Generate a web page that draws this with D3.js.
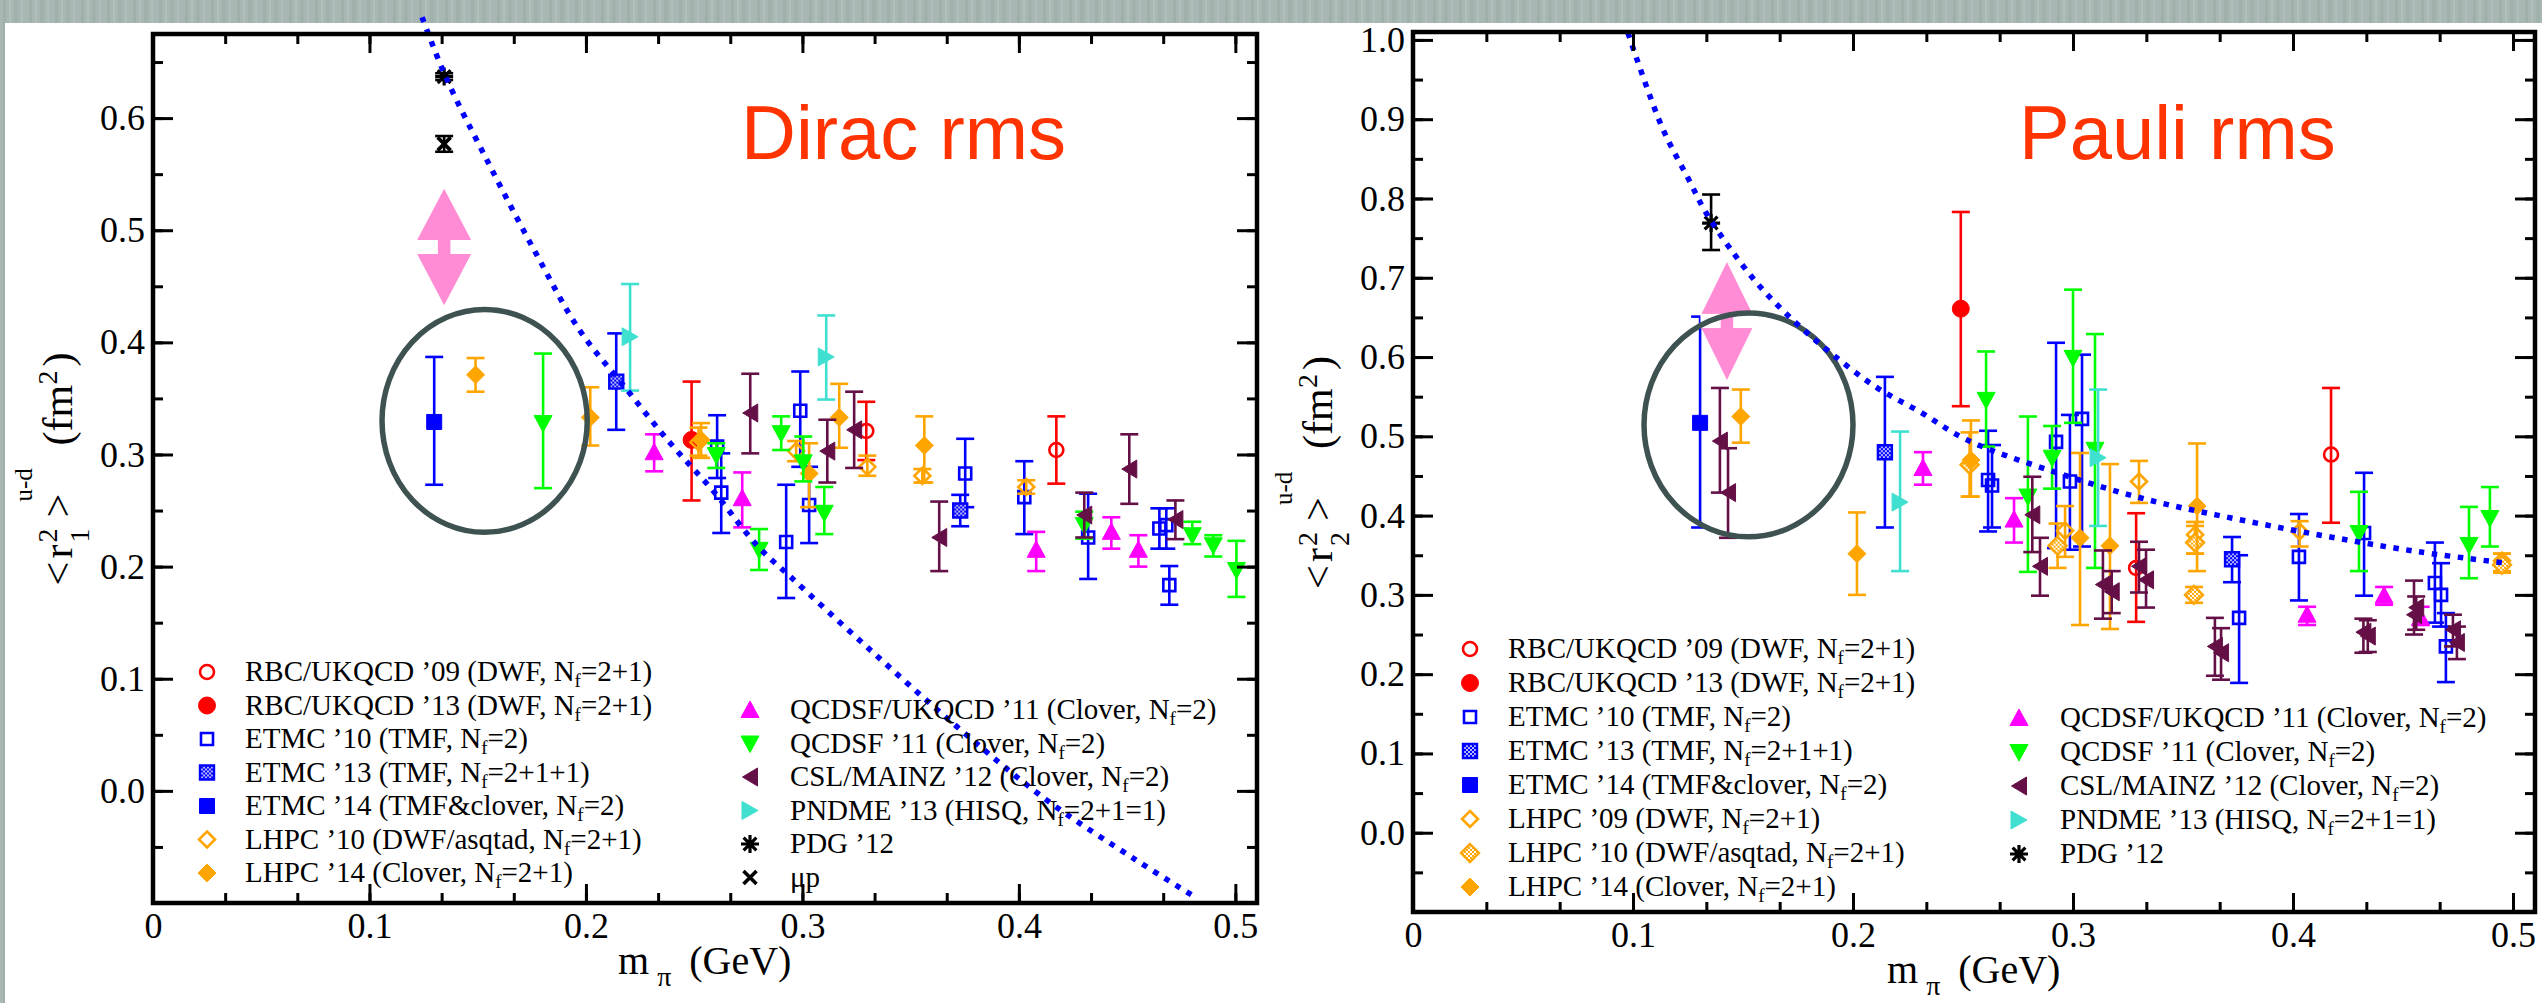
<!DOCTYPE html>
<html>
<head>
<meta charset="utf-8">
<script src="https://cdn.jsdelivr.net/npm/d3@7/dist/d3.min.js"></script>
<style>
  body { margin: 0; background: #fff; }
</style>
</head>
<body>
<div id="visualization"></div>
<script>
// ---- data: [m_pi, value, lower end of error bar, upper end] ----

// Dirac rms panel
const diracRBC09 = [[0.3295, 0.321, 0.295, 0.347], [0.4173, 0.304, 0.274, 0.334]];
const diracRBC13 = [[0.2488, 0.313, 0.259, 0.365]];
const diracETMC10 = [
  [0.2606, 0.307, 0.279, 0.335], [0.2625, 0.266, 0.230, 0.301], [0.2925, 0.222, 0.172, 0.273],
  [0.2990, 0.339, 0.289, 0.374], [0.3031, 0.255, 0.221, 0.289], [0.3752, 0.283, 0.253, 0.314],
  [0.4025, 0.262, 0.229, 0.294], [0.4320, 0.226, 0.189, 0.265], [0.4649, 0.234, 0.216, 0.252],
  [0.4681, 0.237, 0.216, 0.252], [0.4695, 0.1835, 0.166, 0.2005]
];
const diracETMC13 = [[0.2140, 0.365, 0.322, 0.408], [0.3729, 0.250, 0.236, 0.264]];
const diracETMC14 = [[0.1299, 0.329, 0.273, 0.387]];
const diracLHPC10 = [
  [0.2520, 0.311, 0.299, 0.324], [0.2971, 0.303, 0.294, 0.312], [0.3300, 0.289, 0.281, 0.299],
  [0.3554, 0.281, 0.275, 0.287], [0.4034, 0.271, 0.265, 0.277]
];
const diracLHPC14 = [
  [0.1490, 0.371, 0.356, 0.386], [0.2020, 0.333, 0.308, 0.360], [0.2532, 0.313, 0.297, 0.328],
  [0.3031, 0.283, 0.253, 0.310], [0.3170, 0.333, 0.306, 0.363], [0.3563, 0.308, 0.275, 0.334]
];
const diracQCDSFUK = [
  [0.2315, 0.302, 0.285, 0.318], [0.2722, 0.261, 0.235, 0.284], [0.4080, 0.215, 0.196, 0.231],
  [0.4427, 0.231, 0.216, 0.244], [0.4552, 0.215, 0.200, 0.228]
];
const diracQCDSF = [
  [0.1802, 0.328, 0.270, 0.390], [0.2602, 0.2995, 0.288, 0.310], [0.2800, 0.215, 0.197, 0.2335],
  [0.2902, 0.319, 0.304, 0.334], [0.3004, 0.293, 0.276, 0.316], [0.3101, 0.248, 0.229, 0.271],
  [0.4302, 0.237, 0.225, 0.249], [0.4801, 0.228, 0.220, 0.240], [0.4898, 0.219, 0.209, 0.228],
  [0.5005, 0.197, 0.173, 0.223]
];
const diracCSL = [
  [0.2759, 0.337, 0.301, 0.372], [0.3115, 0.303, 0.275, 0.331], [0.3239, 0.322, 0.288, 0.356],
  [0.3632, 0.226, 0.196, 0.258], [0.4302, 0.246, 0.226, 0.266], [0.4510, 0.287, 0.256, 0.318],
  [0.4723, 0.242, 0.2245, 0.259]
];
const diracPNDME = [[0.2204, 0.405, 0.357, 0.452], [0.3110, 0.387, 0.349, 0.424]];
const diracPDG = [[0.1345, 0.637, 0.634, 0.640]];
const diracMuP = [[0.1345, 0.577, 0.570, 0.584]];

// dotted chiral curve, arrow [m, top, bottom], circle [m, value, half width, half height]
const diracCurve = [
  [0.1243, 0.690], [0.1354, 0.636], [0.156, 0.556], [0.177, 0.479], [0.197, 0.411],
  [0.218, 0.360], [0.239, 0.310], [0.259, 0.267], [0.279, 0.219], [0.295, 0.190],
  [0.330, 0.128], [0.3715, 0.057], [0.4127, -0.008], [0.454, -0.0615], [0.480, -0.093]
];
const diracArrow = [0.1345, 0.537, 0.433];
const diracCircle = [0.1532, 0.330, 0.0474, 0.0994];

// Pauli rms panel
const pauliRBC09 = [[0.3287, 0.334, 0.266, 0.403], [0.4173, 0.477, 0.391, 0.561]];
const pauliRBC13 = [[0.2490, 0.661, 0.538, 0.783]];
const pauliETMC10 = [
  [0.2614, 0.445, 0.380, 0.507], [0.2632, 0.438, 0.385, 0.489], [0.2923, 0.493, 0.359, 0.618],
  [0.2986, 0.443, 0.357, 0.527], [0.3041, 0.522, 0.361, 0.603], [0.3755, 0.271, 0.189, 0.350],
  [0.4027, 0.348, 0.293, 0.402], [0.4323, 0.378, 0.299, 0.454], [0.4645, 0.315, 0.265, 0.366],
  [0.4673, 0.300, 0.260, 0.340], [0.4695, 0.235, 0.190, 0.277]
];
const pauliETMC13 = [[0.2145, 0.480, 0.385, 0.575], [0.3723, 0.345, 0.316, 0.373]];
const pauliETMC14 = [[0.1305, 0.517, 0.385, 0.651]];
const pauliLHPC09 = [
  [0.2964, 0.381, 0.348, 0.412], [0.3300, 0.443, 0.416, 0.469], [0.3555, 0.376, 0.352, 0.392],
  [0.4030, 0.380, 0.361, 0.393], [0.4950, 0.343, 0.330, 0.352]
];
const pauliLHPC10 = [
  [0.2530, 0.464, 0.424, 0.505], [0.2930, 0.362, 0.334, 0.390], [0.3555, 0.366, 0.352, 0.387],
  [0.3550, 0.300, 0.290, 0.310], [0.4950, 0.338, 0.328, 0.352]
];
const pauliLHPC14 = [
  [0.1490, 0.525, 0.492, 0.559], [0.2018, 0.352, 0.300, 0.404], [0.2536, 0.470, 0.424, 0.520],
  [0.3032, 0.372, 0.262, 0.479], [0.3168, 0.362, 0.257, 0.465], [0.3564, 0.412, 0.330, 0.491]
];
const pauliQCDSFUK = [
  [0.2318, 0.460, 0.439, 0.480], [0.2732, 0.395, 0.366, 0.422], [0.4064, 0.275, 0.262, 0.285],
  [0.4414, 0.299, 0.2875, 0.310], [0.4580, 0.271, 0.262, 0.285]
];
const pauliQCDSF = [
  [0.2605, 0.546, 0.487, 0.607], [0.2795, 0.424, 0.329, 0.525], [0.2905, 0.473, 0.434, 0.513],
  [0.3000, 0.599, 0.517, 0.685], [0.3100, 0.483, 0.334, 0.629], [0.4300, 0.378, 0.330, 0.430],
  [0.4800, 0.363, 0.321, 0.411], [0.4895, 0.397, 0.361, 0.436]
];
const pauliCSL = [
  [0.1395, 0.494, 0.429, 0.561], [0.1432, 0.429, 0.372, 0.485], [0.2815, 0.401, 0.354, 0.449],
  [0.2850, 0.336, 0.299, 0.372], [0.3136, 0.313, 0.270, 0.356], [0.3176, 0.304, 0.277, 0.330],
  [0.3300, 0.336, 0.303, 0.367], [0.3332, 0.319, 0.284, 0.357], [0.3645, 0.235, 0.198, 0.271],
  [0.3673, 0.227, 0.193, 0.258], [0.4320, 0.253, 0.227, 0.270], [0.4340, 0.248, 0.228, 0.268],
  [0.4550, 0.275, 0.250, 0.318], [0.4560, 0.284, 0.256, 0.298], [0.4727, 0.256, 0.235, 0.275],
  [0.4745, 0.240, 0.219, 0.260]
];
const pauliPNDME = [[0.2214, 0.417, 0.330, 0.506], [0.3114, 0.473, 0.387, 0.559]];
const pauliPDG = [[0.1355, 0.769, 0.735, 0.805]];

const pauliCurve = [
  [0.0977, 1.009], [0.1132, 0.890], [0.1255, 0.823], [0.1332, 0.782], [0.1436, 0.739],
  [0.1577, 0.689], [0.1741, 0.643], [0.190, 0.605], [0.2105, 0.562], [0.231, 0.530],
  [0.2514, 0.496], [0.2927, 0.454], [0.334, 0.420], [0.3755, 0.395], [0.417, 0.373],
  [0.458, 0.354], [0.497, 0.340]
];
const pauliArrow = [0.1427, 0.720, 0.571];
const pauliCircle = [0.1525, 0.5145, 0.0475, 0.1412];

// axes
const mpiDomain = [0, 0.51];
const xTickValues = [0, 0.1, 0.2, 0.3, 0.4, 0.5];
const diracYDomain = [-0.1, 0.675];
const diracYTicks = [0.0, 0.1, 0.2, 0.3, 0.4, 0.5, 0.6];
const pauliYDomain = [-0.1, 1.01];
const pauliYTicks = [0.0, 0.1, 0.2, 0.3, 0.4, 0.5, 0.6, 0.7, 0.8, 0.9, 1.0];

// how each data set is drawn
const styles = {
  rbc09:   {color: '#ff0000', shape: 'circle',  fill: 'open'},
  rbc13:   {color: '#ff0000', shape: 'circle',  fill: 'solid'},
  etmc10:  {color: '#0000ff', shape: 'square',  fill: 'open'},
  etmc13:  {color: '#0000ff', shape: 'square',  fill: 'hatch'},
  etmc14:  {color: '#0000ff', shape: 'square',  fill: 'solid'},
  lhpcO:   {color: '#ffa500', shape: 'diamond', fill: 'open'},
  lhpcH:   {color: '#ffa500', shape: 'diamond', fill: 'hatch'},
  lhpc14:  {color: '#ffa500', shape: 'diamond', fill: 'solid'},
  qcdsfuk: {color: '#ff00ff', shape: 'up',      fill: 'solid'},
  qcdsf:   {color: '#00ff00', shape: 'down',    fill: 'solid'},
  csl:     {color: '#641047', shape: 'left',    fill: 'solid'},
  pndme:   {color: '#40e0d0', shape: 'right',   fill: 'solid'},
  pdg:     {color: '#000000', shape: 'star',    fill: 'line'},
  mup:     {color: '#000000', shape: 'cross',   fill: 'line'}
};

function shapePath(shape, fill) {
  switch (shape) {
    case 'circle': {
      let r = fill === 'open' ? 7 : 8.5;
      return `M${r},0A${r},${r} 0 1 1 ${-r},0A${r},${r} 0 1 1 ${r},0Z`;
    }
    case 'square': {
      let h = fill === 'open' ? 6 : (fill === 'hatch' ? 7 : 7.5);
      return `M${-h},${-h}H${h}V${h}H${-h}Z`;
    }
    case 'diamond': {
      let h = fill === 'open' ? 8 : 9;
      return `M0,${-h}L${h},0L0,${h}L${-h},0Z`;
    }
    case 'up': return 'M0,-9L9,7.5L-9,7.5Z';
    case 'down': return 'M0,9L9,-7.5L-9,-7.5Z';
    case 'left': return 'M-7.5,0L7.5,-9L7.5,9Z';
    case 'right': return 'M8,0L-8,-9L-8,9Z';
    case 'star': return 'M-9,0H9M0,-9V9M-6.4,-6.4L6.4,6.4M-6.4,6.4L6.4,-6.4';
    case 'cross': return 'M-6.5,-6.5L6.5,6.5M-6.5,6.5L6.5,-6.5';
  }
}

function styleMark(sel, st) {
  sel.attr('d', shapePath(st.shape, st.fill))
    .attr('stroke', st.color);
  if (st.fill === 'open') sel.attr('fill', 'none').attr('stroke-width', 2.6);
  else if (st.fill === 'hatch') sel.attr('fill', st.color === '#0000ff' ? 'url(#hatchBlue)' : 'url(#hatchOrange)').attr('stroke-width', 2.4);
  else if (st.fill === 'solid') sel.attr('fill', st.color).attr('stroke-width', 1);
  else sel.attr('fill', 'none').attr('stroke-width', st.shape === 'cross' ? 3.6 : 3.2);
}

function drawSeries(g, x, y, s) {
  let st = styles[s.key];
  let grp = g.append('g');
  let cap = 9;

  grp.selectAll('line.bar').data(s.data).enter().append('line').attr('class', 'bar')
    .attr('x1', d => x(d[0])).attr('x2', d => x(d[0]))
    .attr('y1', d => y(d[2])).attr('y2', d => y(d[3]));
  grp.selectAll('line.lo').data(s.data).enter().append('line').attr('class', 'lo')
    .attr('x1', d => x(d[0]) - cap).attr('x2', d => x(d[0]) + cap)
    .attr('y1', d => y(d[2])).attr('y2', d => y(d[2]));
  grp.selectAll('line.hi').data(s.data).enter().append('line').attr('class', 'hi')
    .attr('x1', d => x(d[0]) - cap).attr('x2', d => x(d[0]) + cap)
    .attr('y1', d => y(d[3])).attr('y2', d => y(d[3]));
  grp.selectAll('line').attr('stroke', st.color).attr('stroke-width', 2.6);

  let marks = grp.selectAll('path.mark').data(s.data).enter().append('path').attr('class', 'mark')
    .attr('transform', d => `translate(${x(d[0])},${y(d[1])})`);
  styleMark(marks, st);
}

// label text with N_f written as N with subscript f
function addLabel(g, px, py, label) {
  let parts = label.split('_f');
  let t = g.append('text').attr('x', px).attr('y', py)
    .attr('font-family', 'Liberation Serif').attr('font-size', 29).attr('fill', '#000');
  t.append('tspan').text(parts[0]);
  if (parts.length > 1) {
    t.append('tspan').attr('font-size', 19).attr('dy', 6).text('f');
    t.append('tspan').attr('dy', -6).text(parts[1]);
  }
}

function drawYLabel(svg, bx, by, sub) {
  let g = svg.append('g').attr('transform', `translate(${bx},${by}) rotate(-90)`)
    .attr('font-family', 'Liberation Serif').attr('fill', '#000');
  let pieces = [
    ['<', 0, 0, 42], ['r', 27, 0, 42], [sub, 43, 17, 28], ['2', 43, -15, 28],
    ['>', 68, 0, 42], ['u-d', 84, -40, 25], ['(fm', 140, 0, 42], ['2', 201, -15, 28], [')', 219, 0, 42]
  ];
  pieces.forEach(p => {
    g.append('text').attr('x', p[1]).attr('y', p[2]).attr('font-size', p[3]).text(p[0]);
  });
}

function drawPanel(svg, cfg) {
  let [x0, x1, yb, yt] = cfg.box;
  let x = d3.scaleLinear().domain(mpiDomain).range([x0, x1]);
  let y = d3.scaleLinear().domain(cfg.yDomain).range([yb, yt]);
  let g = svg.append('g');

  // data sets, error bars first then symbols
  cfg.series.forEach(s => drawSeries(g, x, y, s));

  // pink double arrow
  let ax = x(cfg.arrow[0]), aT = y(cfg.arrow[1]), aB = y(cfg.arrow[2]);
  let head = 0.44 * (aB - aT), hw = cfg.arrowHalf, sw = 6.5;
  let arrowPath = `M${ax},${aT}L${ax + hw},${aT + head}H${ax + sw}V${aB - head}H${ax + hw}L${ax},${aB}` +
    `L${ax - hw},${aB - head}H${ax - sw}V${aT + head}H${ax - hw}Z`;
  g.append('path').attr('d', arrowPath).attr('fill', '#ff8cd4');
  // white gap between the two heads
  g.append('rect').attr('x', ax - hw - 1).attr('y', aT + head)
    .attr('width', hw - sw + 1).attr('height', aB - aT - 2 * head).attr('fill', '#fff');
  g.append('rect').attr('x', ax + sw).attr('y', aT + head)
    .attr('width', hw - sw + 1).attr('height', aB - aT - 2 * head).attr('fill', '#fff');

  // circle round the physical-point results
  let c = cfg.circle;
  g.append('ellipse')
    .attr('cx', x(c[0])).attr('cy', y(c[1]))
    .attr('rx', x(c[0] + c[2]) - x(c[0])).attr('ry', y(c[1] - c[3]) - y(c[1]))
    .attr('fill', 'none').attr('stroke', '#3e5351').attr('stroke-width', 5.5);

  // dotted curve
  let line = d3.line().x(d => x(d[0])).y(d => y(d[1])).curve(d3.curveCatmullRom);
  g.append('path').datum(cfg.curve).attr('d', line)
    .attr('fill', 'none').attr('stroke', '#0000ff')
    .attr('stroke-width', 5.5).attr('stroke-dasharray', '5.5 7.5');

  // axes, ticks on all sides pointing inward
  let fmtX = d => d === 0 ? '0' : d3.format('.1f')(d);
  let xMinor = d3.range(0, 16).map(i => i / 30);
  let yMinor = cfg.yMinor;
  let axes = svg.append('g');
  axes.append('g').attr('transform', `translate(0,${yb})`)
    .call(d3.axisBottom(x).tickValues(xMinor).tickSizeInner(-10).tickSizeOuter(0).tickFormat(''));
  axes.append('g').attr('transform', `translate(0,${yb})`)
    .call(d3.axisBottom(x).tickValues(xTickValues).tickSizeInner(-19).tickSizeOuter(0).tickPadding(9).tickFormat(fmtX));
  axes.append('g').attr('transform', `translate(0,${yt})`)
    .call(d3.axisTop(x).tickValues(xMinor).tickSizeInner(-10).tickSizeOuter(0).tickFormat(''));
  axes.append('g').attr('transform', `translate(0,${yt})`)
    .call(d3.axisTop(x).tickValues(xTickValues).tickSizeInner(-19).tickSizeOuter(0).tickFormat(''));
  axes.append('g').attr('transform', `translate(${x0},0)`)
    .call(d3.axisLeft(y).tickValues(yMinor).tickSizeInner(-10).tickSizeOuter(0).tickFormat(''));
  axes.append('g').attr('transform', `translate(${x0},0)`)
    .call(d3.axisLeft(y).tickValues(cfg.yTicks).tickSizeInner(-20).tickSizeOuter(0).tickPadding(8).tickFormat(d3.format('.1f')));
  axes.append('g').attr('transform', `translate(${x1},0)`)
    .call(d3.axisRight(y).tickValues(yMinor).tickSizeInner(-10).tickSizeOuter(0).tickFormat(''));
  axes.append('g').attr('transform', `translate(${x1},0)`)
    .call(d3.axisRight(y).tickValues(cfg.yTicks).tickSizeInner(-20).tickSizeOuter(0).tickFormat(''));
  axes.selectAll('.domain').remove();
  axes.selectAll('.tick line').attr('stroke', '#000').attr('stroke-width', 3);
  axes.selectAll('text').attr('font-family', 'Liberation Serif').attr('font-size', 36).attr('fill', '#000');

  axes.append('rect').attr('x', x0).attr('y', yt).attr('width', x1 - x0).attr('height', yb - yt)
    .attr('fill', 'none').attr('stroke', '#000').attr('stroke-width', 4.5);

  // title inside the plot
  svg.append('text').attr('x', cfg.title[1]).attr('y', 159)
    .attr('font-family', 'Liberation Sans').attr('font-size', 76).attr('fill', '#ff3300')
    .text(cfg.title[0]);

  // x axis title
  let xt = svg.append('text').attr('x', (x0 + x1) / 2 - 87).attr('y', yb + 71)
    .attr('font-family', 'Liberation Serif').attr('font-size', 40).attr('fill', '#000');
  xt.append('tspan').text('m');
  xt.append('tspan').attr('font-size', 28).attr('dx', 8).attr('dy', 12).text('π');
  xt.append('tspan').attr('dx', 18).attr('dy', -12).text('(GeV)');

  drawYLabel(svg, x0 - 81, (yb + yt) / 2 + 117, cfg.sub);

  // legend, two columns
  cfg.legend.forEach(col => {
    col.items.forEach((s, i) => {
      let cy = col.y0 + i * col.dy;
      let m = svg.append('path').attr('transform', `translate(${col.sx},${cy})`);
      styleMark(m, styles[s.key]);
      addLabel(svg, col.tx, cy + 9, s.label);
    });
  });
}

function main() {
  let width = 2542;
  let height = 1003;

  let svg = d3.select(document.getElementById('visualization'))
    .append('svg')
    .attr('width', width)
    .attr('height', height)
    .style('display', 'block');

  let defs = svg.append('defs');
  let pb = defs.append('pattern').attr('id', 'hatchBlue').attr('patternUnits', 'userSpaceOnUse')
    .attr('width', 4).attr('height', 4);
  pb.append('rect').attr('width', 4).attr('height', 4).attr('fill', '#b8b8ff');
  pb.append('rect').attr('width', 2).attr('height', 2).attr('fill', '#0000ff');
  pb.append('rect').attr('x', 2).attr('y', 2).attr('width', 2).attr('height', 2).attr('fill', '#0000ff');
  let po = defs.append('pattern').attr('id', 'hatchOrange').attr('patternUnits', 'userSpaceOnUse')
    .attr('width', 4).attr('height', 4);
  po.append('rect').attr('width', 4).attr('height', 4).attr('fill', '#fff');
  po.append('rect').attr('width', 2).attr('height', 2).attr('fill', '#ffa500');
  po.append('rect').attr('x', 2).attr('y', 2).attr('width', 2).attr('height', 2).attr('fill', '#ffa500');

  // slide background frame with faint vertical stripes
  let ps = defs.append('pattern').attr('id', 'stripes').attr('patternUnits', 'userSpaceOnUse')
    .attr('width', 26).attr('height', 40);
  ps.append('rect').attr('width', 26).attr('height', 40).attr('fill', '#a8b7b3');
  [[3, 3, '#9fb0ab'], [9, 2, '#b2c0bc'], [14, 4, '#a1b2ad'], [21, 2, '#b0bebb']].forEach(s => {
    ps.append('rect').attr('x', s[0]).attr('width', s[1]).attr('height', 40).attr('fill', s[2]);
  });
  svg.append('rect').attr('width', width).attr('height', 23).attr('fill', 'url(#stripes)');
  svg.append('rect').attr('width', 5).attr('height', height).attr('fill', 'url(#stripes)');

  let S = (key, data, label) => ({key, data, label});

  drawPanel(svg, {
    box: [153, 1257, 903, 34],
    yDomain: diracYDomain,
    yTicks: diracYTicks,
    yMinor: d3.range(-2, 14).map(i => i * 0.05),
    sub: '1',
    title: ['Dirac rms', 741],
    curve: diracCurve,
    arrow: diracArrow,
    arrowHalf: 27,
    circle: diracCircle,
    series: [
      S('rbc09', diracRBC09), S('rbc13', diracRBC13), S('etmc10', diracETMC10),
      S('etmc13', diracETMC13), S('etmc14', diracETMC14), S('lhpcO', diracLHPC10),
      S('lhpc14', diracLHPC14), S('qcdsfuk', diracQCDSFUK), S('qcdsf', diracQCDSF),
      S('csl', diracCSL), S('pndme', diracPNDME), S('pdg', diracPDG), S('mup', diracMuP)
    ],
    legend: [
      {sx: 207, tx: 245, y0: 672, dy: 33.5, items: [
        S('rbc09', null, 'RBC/UKQCD ’09 (DWF, N_f=2+1)'),
        S('rbc13', null, 'RBC/UKQCD ’13 (DWF, N_f=2+1)'),
        S('etmc10', null, 'ETMC ’10 (TMF, N_f=2)'),
        S('etmc13', null, 'ETMC ’13 (TMF, N_f=2+1+1)'),
        S('etmc14', null, 'ETMC ’14 (TMF&clover, N_f=2)'),
        S('lhpcO', null, 'LHPC ’10 (DWF/asqtad, N_f=2+1)'),
        S('lhpc14', null, 'LHPC ’14 (Clover, N_f=2+1)')
      ]},
      {sx: 750, tx: 790, y0: 710, dy: 33.5, items: [
        S('qcdsfuk', null, 'QCDSF/UKQCD ’11 (Clover, N_f=2)'),
        S('qcdsf', null, 'QCDSF ’11 (Clover, N_f=2)'),
        S('csl', null, 'CSL/MAINZ ’12 (Clover, N_f=2)'),
        S('pndme', null, 'PNDME ’13 (HISQ, N_f=2+1=1)'),
        S('pdg', null, 'PDG ’12'),
        S('mup', null, 'μp')
      ]}
    ]
  });

  drawPanel(svg, {
    box: [1413, 2535, 912, 32],
    yDomain: pauliYDomain,
    yTicks: pauliYTicks,
    yMinor: d3.range(-2, 21).map(i => i * 0.05),
    sub: '2',
    title: ['Pauli rms', 2019],
    curve: pauliCurve,
    arrow: pauliArrow,
    arrowHalf: 25.5,
    circle: pauliCircle,
    series: [
      S('rbc09', pauliRBC09), S('rbc13', pauliRBC13), S('etmc10', pauliETMC10),
      S('etmc13', pauliETMC13), S('etmc14', pauliETMC14), S('lhpcO', pauliLHPC09),
      S('lhpcH', pauliLHPC10), S('lhpc14', pauliLHPC14), S('qcdsfuk', pauliQCDSFUK),
      S('qcdsf', pauliQCDSF), S('csl', pauliCSL), S('pndme', pauliPNDME), S('pdg', pauliPDG)
    ],
    legend: [
      {sx: 1470, tx: 1508, y0: 649, dy: 34, items: [
        S('rbc09', null, 'RBC/UKQCD ’09 (DWF, N_f=2+1)'),
        S('rbc13', null, 'RBC/UKQCD ’13 (DWF, N_f=2+1)'),
        S('etmc10', null, 'ETMC ’10 (TMF, N_f=2)'),
        S('etmc13', null, 'ETMC ’13 (TMF, N_f=2+1+1)'),
        S('etmc14', null, 'ETMC ’14 (TMF&clover, N_f=2)'),
        S('lhpcO', null, 'LHPC ’09 (DWF, N_f=2+1)'),
        S('lhpcH', null, 'LHPC ’10 (DWF/asqtad, N_f=2+1)'),
        S('lhpc14', null, 'LHPC ’14 (Clover, N_f=2+1)')
      ]},
      {sx: 2019, tx: 2060, y0: 718, dy: 34, items: [
        S('qcdsfuk', null, 'QCDSF/UKQCD ’11 (Clover, N_f=2)'),
        S('qcdsf', null, 'QCDSF ’11 (Clover, N_f=2)'),
        S('csl', null, 'CSL/MAINZ ’12 (Clover, N_f=2)'),
        S('pndme', null, 'PNDME ’13 (HISQ, N_f=2+1=1)'),
        S('pdg', null, 'PDG ’12')
      ]}
    ]
  });
}

window.onload = () => {
  main();
};
</script>
</body>
</html>
